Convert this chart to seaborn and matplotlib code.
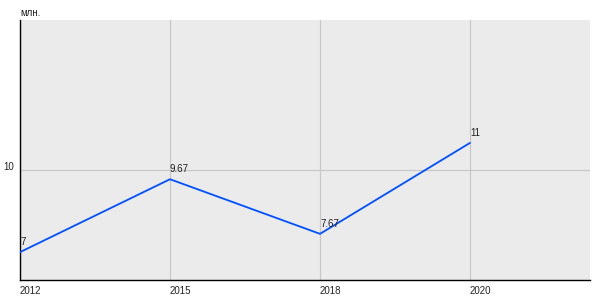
import matplotlib
matplotlib.use("Agg")
import matplotlib.pyplot as plt
import seaborn as sns
import pandas as pd

years = ["2012", "2015", "2018", "2020"]
values = [7, 9.67, 7.67, 11]
value_labels = ["7", "9.67", "7.67", "11"]
y_ticks = [10]
unit_label = "млн."

sns.set_theme(style="white")
plt.rcParams["font.family"] = ["Liberation Sans", "DejaVu Sans"]

df = pd.DataFrame({"year": years, "value": values})

fig = plt.figure(figsize=(6, 3), dpi=100)
ax = fig.add_axes([20/600, 20/300, 570/600, 260/300])
ax.set_facecolor("#ebebeb")

sns.lineplot(data=df, x="year", y="value", ax=ax, color="#0050ff", linewidth=1.3,
             sort=False, zorder=3)

ax.set_xlim(0, 3.8)
ax.set_ylim(5.98, 15.5)
ax.set_xticks(range(len(years)))
ax.set_xticklabels(years, ha="left", fontsize=7, color="#222222")
ax.set_yticks(y_ticks)
ax.set_yticklabels([str(t) for t in y_ticks], fontsize=7, color="#222222", va="baseline")
ax.tick_params(axis="x", length=0, pad=4)
ax.tick_params(axis="y", length=3, width=0.8, color="#222222", pad=1.5)
ax.set_xlabel("")
ax.set_ylabel("")

ax.grid(True, color="#c8c8c8", linewidth=0.9)
ax.set_axisbelow(True)

for s in ["top", "right"]:
    ax.spines[s].set_visible(False)
for s in ["left", "bottom"]:
    ax.spines[s].set_color("#000000")
    ax.spines[s].set_linewidth(1.0)

for i, (v, lab) in enumerate(zip(values, value_labels)):
    ax.annotate(lab, (i, v), xytext=(0, 5), textcoords="offset points",
                ha="left", va="baseline", fontsize=7, color="#222222", zorder=4)

fig.text(20/600, 1 - 16/300, unit_label, fontsize=7, color="#222222", ha="left", va="baseline")

fig.savefig("out.png", dpi=100, facecolor="white")
